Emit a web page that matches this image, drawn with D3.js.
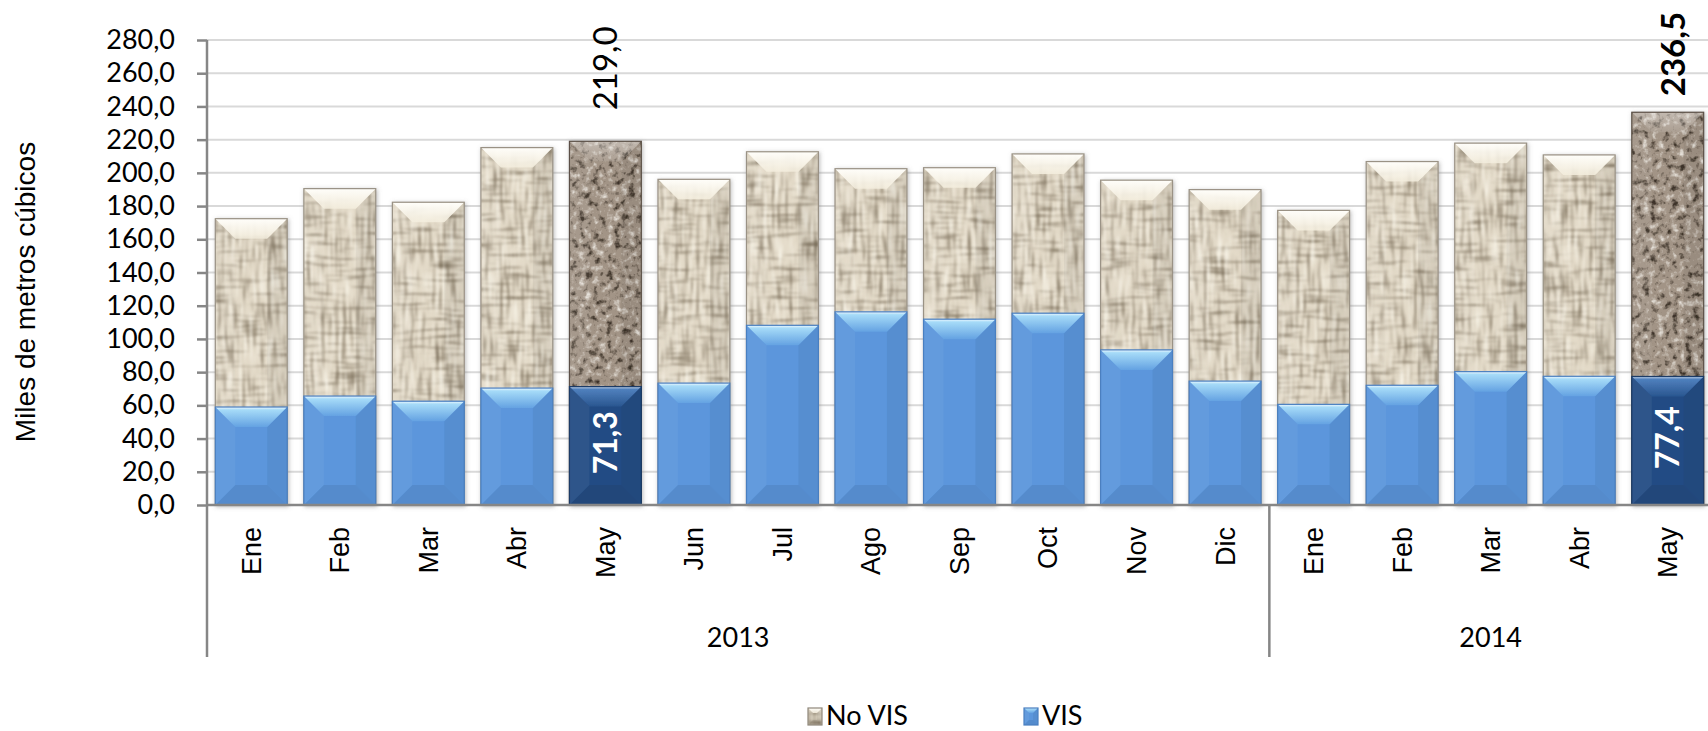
<!DOCTYPE html>
<html>
<head>
<meta charset="utf-8">
<script src="https://cdn.jsdelivr.net/npm/d3@7"></script>
<style>
  body { margin: 0; background: #fff; }
  svg { display: block; }
</style>
</head>
<body>
<script>
// valores (miles de m3)
const months = ['Ene','Feb','Mar','Abr','May','Jun','Jul','Ago','Sep','Oct','Nov','Dic','Ene','Feb','Mar','Abr','May'];
const years = ['2013','2014'];
const yearCounts = [12, 5];
const noVis = [172.4,190.5,182.3,215.2,219.0,196.1,212.7,202.5,203.1,211.4,195.6,189.9,177.4,206.8,217.9,210.8,236.5];
const vis = [59.0,65.6,62.5,70.4,71.3,73.4,108.2,116.3,111.9,115.5,93.4,74.6,60.6,72.1,80.3,77.5,77.4];
const highlight = [4, 16];
const yTicks = [0,20,40,60,80,100,120,140,160,180,200,220,240,260,280];
const seriesNames = ['No VIS','VIS'];

const W = 1708, H = 731;
const fmt = v => d3.format('.1f')(v).replace('.', ',');

const svg = d3.select('body').append('svg')
  .attr('width', W).attr('height', H);

svg.append('defs').html(`
  <filter id="canvas" x="0" y="0" width="1" height="1" color-interpolation-filters="sRGB">
    <feTurbulence type="fractalNoise" baseFrequency="0.28 0.03" numOctaves="2" seed="3" result="v"/>
    <feTurbulence type="fractalNoise" baseFrequency="0.03 0.28" numOctaves="2" seed="11" result="h"/>
    <feColorMatrix in="v" type="matrix" values="0 0 0 0 0.48 0 0 0 0 0.43 0 0 0 0 0.35 -2.6 0 0 0 1.22" result="vd"/>
    <feColorMatrix in="h" type="matrix" values="0 0 0 0 0.48 0 0 0 0 0.43 0 0 0 0 0.35 -2.6 0 0 0 1.22" result="hd"/>
    <feColorMatrix in="v" type="matrix" values="0 0 0 0 1 0 0 0 0 0.99 0 0 0 0 0.95 2.4 0 0 0 -1.3" result="vl"/>
    <feMerge result="m"><feMergeNode in="vd"/><feMergeNode in="hd"/><feMergeNode in="vl"/></feMerge>
    <feGaussianBlur in="m" stdDeviation="0.9" result="mb"/>
    <feComposite in="mb" in2="SourceGraphic" operator="atop"/>
  </filter>
  <filter id="granite" x="0" y="0" width="1" height="1" color-interpolation-filters="sRGB">
    <feTurbulence type="fractalNoise" baseFrequency="0.14" numOctaves="3" seed="9" result="n"/>
    <feColorMatrix in="n" type="matrix" values="0 0 0 0 0.24 0 0 0 0 0.2 0 0 0 0 0.16 -3.8 0 0 0 1.7" result="dk"/>
    <feColorMatrix in="n" type="matrix" values="0 0 0 0 0.9 0 0 0 0 0.88 0 0 0 0 0.85 3.4 0 0 0 -1.9" result="lt"/>
    <feMerge result="m"><feMergeNode in="dk"/><feMergeNode in="lt"/></feMerge>
    <feGaussianBlur in="m" stdDeviation="0.7" result="mb"/>
    <feComposite in="mb" in2="SourceGraphic" operator="atop"/>
  </filter>
  <filter id="shadow" x="-15%" y="-5%" width="130%" height="110%">
    <feDropShadow dx="1" dy="1" stdDeviation="2" flood-color="#777" flood-opacity="0.5"/>
  </filter>
  <linearGradient id="beigeTop" x1="0" y1="0" x2="0" y2="1">
    <stop offset="0" stop-color="#fffefa" stop-opacity="1"/>
    <stop offset="1" stop-color="#f4eede" stop-opacity="0.85"/>
  </linearGradient>
  <linearGradient id="graniteTop" x1="0" y1="0" x2="0" y2="1">
    <stop offset="0" stop-color="#fff" stop-opacity="0.35"/>
    <stop offset="1" stop-color="#fff" stop-opacity="0.1"/>
  </linearGradient>
  <linearGradient id="blueTop" x1="0" y1="0" x2="0" y2="1">
    <stop offset="0" stop-color="#f2faff"/>
    <stop offset="0.14" stop-color="#a6dbf8"/>
    <stop offset="1" stop-color="#64a2e2"/>
  </linearGradient>
  <linearGradient id="darkTop" x1="0" y1="0" x2="0" y2="1">
    <stop offset="0" stop-color="#c6d6ea"/>
    <stop offset="0.14" stop-color="#4f80bd"/>
    <stop offset="1" stop-color="#2a5690"/>
  </linearGradient>
`);

const x = d3.scaleBand()
  .domain(d3.range(months.length))
  .range([207, 1712])
  .paddingInner(0.188)
  .paddingOuter(0.094);

const y = d3.scaleLinear().domain([0, 280]).range([505, 40]);

// gridlines
svg.append('g').selectAll('line')
  .data(yTicks.filter(d => d > 0))
  .enter().append('line')
  .attr('x1', 207).attr('x2', W)
  .attr('y1', d => y(d)).attr('y2', d => y(d))
  .attr('stroke', '#d9d9d9').attr('stroke-width', 2);

function bevelBar(g, x0, y0, w, h, o) {
  const b = Math.min(o.b || 20, w / 2, h / 2);
  g.append('rect')
    .attr('x', x0).attr('y', y0).attr('width', w).attr('height', h)
    .attr('fill', o.face)
    .attr('filter', o.tex ? 'url(#' + o.tex + ')' : null);
  g.append('polygon')
    .attr('points', [[x0, y0], [x0 + b, y0 + b], [x0 + b, y0 + h - b], [x0, y0 + h]].join(' '))
    .attr('fill', '#fff').attr('fill-opacity', 0.05);
  g.append('polygon')
    .attr('points', [[x0 + w, y0], [x0 + w - b, y0 + b], [x0 + w - b, y0 + h - b], [x0 + w, y0 + h]].join(' '))
    .attr('fill', '#000').attr('fill-opacity', 0.05);
  g.append('polygon')
    .attr('points', [[x0, y0 + h], [x0 + b, y0 + h - b], [x0 + w - b, y0 + h - b], [x0 + w, y0 + h]].join(' '))
    .attr('fill', '#000').attr('fill-opacity', 0.07);
  g.append('polygon')
    .attr('points', [[x0, y0], [x0 + w, y0], [x0 + w - b, y0 + b], [x0 + b, y0 + b]].join(' '))
    .attr('fill', o.top);
  g.append('rect')
    .attr('x', x0).attr('y', y0).attr('width', w).attr('height', h)
    .attr('fill', 'none').attr('stroke', o.edge).attr('stroke-width', 1.2);
}

const bw = x.bandwidth();
months.forEach((m, i) => {
  const hi = highlight.includes(i);
  const g = svg.append('g').attr('filter', 'url(#shadow)');
  bevelBar(g, x(i), y(noVis[i]), bw, y(0) - y(noVis[i]), hi
    ? { face: '#a29486', tex: 'granite', top: 'url(#graniteTop)', edge: '#5b5046' }
    : { face: '#e3dac8', tex: 'canvas', top: 'url(#beigeTop)', edge: '#9a9285' });
  bevelBar(g, x(i), y(vis[i]), bw, y(0) - y(vis[i]), hi
    ? { face: '#244c84', top: 'url(#darkTop)', edge: '#1b3a66' }
    : { face: '#5b96dc', top: 'url(#blueTop)', edge: '#4a7fc0' });
});

// etiquetas de datos
highlight.forEach((i, k) => {
  const cx = x(i) + bw / 2;
  const bold = k === highlight.length - 1;
  const gap = bold ? 16 : 31;
  svg.append('text')
    .attr('transform', `translate(${cx + (bold ? 5 : 0)},${y(noVis[i]) - gap}) rotate(-90)`)
    .attr('dy', '0.36em')
    .attr('text-anchor', 'start')
    .style('font-family', 'Lato, sans-serif')
    .style('font-size', '33px')
    .style('font-weight', bold ? 700 : 400)
    .attr('fill', '#000')
    .text(fmt(noVis[i]));
  svg.append('text')
    .attr('transform', `translate(${cx},${(y(vis[i]) + y(0)) / 2 - 3}) rotate(-90)`)
    .attr('dy', '0.36em')
    .attr('text-anchor', 'middle')
    .style('font-family', 'Lato, sans-serif')
    .style('font-size', '32px')
    .style('font-weight', 700)
    .attr('fill', '#fff')
    .text(fmt(vis[i]));
});

// eje y
const yAxis = svg.append('g')
  .attr('transform', 'translate(207,0)')
  .call(d3.axisLeft(y).tickValues(yTicks).tickFormat(fmt).tickSize(10).tickPadding(22));
yAxis.select('.domain').remove();
yAxis.selectAll('.tick line').attr('stroke', '#868686').attr('stroke-width', 2.5);
yAxis.selectAll('.tick text')
  .style('font-family', 'Lato, sans-serif')
  .style('font-size', '27px')
  .attr('fill', '#000');

// lineas de ejes
const axisCol = '#868686';
svg.append('line').attr('x1', 207).attr('x2', 207).attr('y1', y(280)).attr('y2', 657)
  .attr('stroke', axisCol).attr('stroke-width', 2.5);
svg.append('line').attr('x1', 207).attr('x2', W).attr('y1', y(0)).attr('y2', y(0))
  .attr('stroke', axisCol).attr('stroke-width', 2.5);

// meses
svg.append('g').selectAll('text')
  .data(months)
  .enter().append('text')
  .attr('transform', (d, i) => `translate(${x(i) + bw / 2},527) rotate(-90)`)
  .attr('dy', '0.35em')
  .attr('text-anchor', 'end')
  .style('font-family', '"Liberation Sans", Arial, sans-serif')
  .style('font-size', '27px')
  .attr('fill', '#000')
  .text(d => d);

// anios
let start = 0;
years.forEach((yr, k) => {
  const x0 = x.range()[0] + start * x.step();
  const x1 = x.range()[0] + (start + yearCounts[k]) * x.step();
  if (k > 0) {
    svg.append('line').attr('x1', x0).attr('x2', x0).attr('y1', y(0)).attr('y2', 657)
      .attr('stroke', axisCol).attr('stroke-width', 2.5);
  }
  svg.append('text')
    .attr('x', (x0 + x1) / 2).attr('y', 647)
    .attr('text-anchor', 'middle')
    .style('font-family', 'Lato, sans-serif')
    .style('font-size', '27px')
    .attr('fill', '#000')
    .text(yr);
  start += yearCounts[k];
});

// titulo eje y
svg.append('text')
  .attr('transform', 'translate(35,292) rotate(-90)')
  .attr('text-anchor', 'middle')
  .style('font-family', '"Liberation Sans", Arial, sans-serif')
  .style('font-size', '28px')
  .attr('fill', '#000')
  .text('Miles de metros cúbicos');

// leyenda
const legX = [808, 1024];
seriesNames.forEach((name, k) => {
  const g = svg.append('g');
  bevelBar(g, legX[k], 708, 14, 17, k === 0
    ? { face: '#d8cfbd', tex: 'canvas', top: 'url(#beigeTop)', edge: '#8f877a', b: 5 }
    : { face: '#5b96dc', top: 'url(#blueTop)', edge: '#4a7fc0', b: 5 });
  g.append('text')
    .attr('x', legX[k] + 18).attr('y', 725)
    .style('font-family', 'Lato, sans-serif')
    .style('font-size', '27px')
    .attr('fill', '#000')
    .text(name);
});
</script>
</body>
</html>
